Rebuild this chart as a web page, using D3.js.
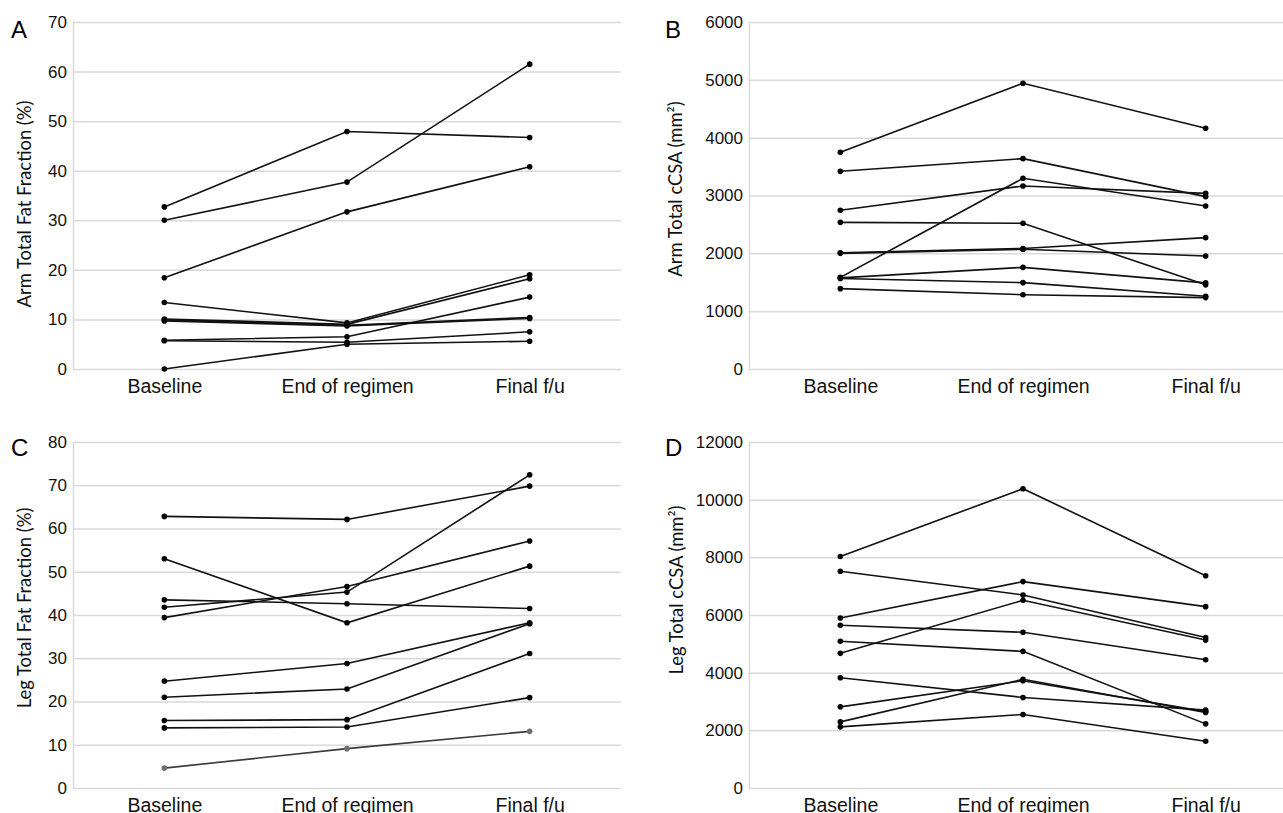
<!DOCTYPE html>
<html>
<head>
<meta charset="utf-8">
<script src="https://cdn.jsdelivr.net/npm/d3@7"></script>
<style>
  body { margin: 0; background: #fff; }
  svg { display: block; font-family: Lato, "Open Sans", sans-serif; }
</style>
</head>
<body>
<svg id="chart" width="1283" height="813"></svg>
<script>
// time points
var categories = ["Baseline", "End of regimen", "Final f/u"];

// A: arm total fat fraction (%), one row per subject
var armFat = [
    [32.7, 47.9, 46.7],
    [30.0, 37.7, 61.5],
    [18.4, 31.7, 40.8],
    [13.4, 9.3, 19.0],
    [10.1, 9.0, 18.2],
    [9.9, 8.8, 10.4],
    [9.7, 8.7, 10.2],
    [5.8, 6.5, 14.5],
    [5.7, 5.4, 7.5],
    [0.0, 5.0, 5.6]
];
// B: arm total cCSA (mm2)
var armCsa = [
    [3747, 4940, 4162],
    [3418, 3637, 2980],
    [2744, 3164, 3037],
    [1585, 3297, 2819],
    [2536, 2519, 1455],
    [2010, 2084, 2271],
    [2000, 2070, 1954],
    [1575, 1758, 1490],
    [1565, 1493, 1257],
    [1389, 1285, 1235]
];
// C: leg total fat fraction (%)
var legFat = [
    [62.8, 62.1, 69.8],
    [53.0, 38.2, 51.3],
    [43.5, 42.6, 41.5],
    [41.8, 45.3, 72.4],
    [39.4, 46.6, 57.1],
    [24.7, 28.8, 38.2],
    [21.0, 22.9, 38.0],
    [15.6, 15.8, 31.1],
    [13.9, 14.1, 20.9],
    [4.6, 9.1, 13.1]
];
// D: leg total cCSA (mm2)
var legCsa = [
    [8027, 10380, 7360],
    [7519, 6696, 5220],
    [5897, 7158, 6290],
    [4670, 6511, 5130],
    [5643, 5400, 4450],
    [5087, 4739, 2224],
    [3822, 3141, 2700],
    [2815, 3720, 2650],
    [2293, 3770, 2620],
    [2120, 2550, 1623]
];

var armFatTicks = [0, 10, 20, 30, 40, 50, 60, 70];
var armCsaTicks = [0, 1000, 2000, 3000, 4000, 5000, 6000];
var legFatTicks = [0, 10, 20, 30, 40, 50, 60, 70, 80];
var legCsaTicks = [0, 2000, 4000, 6000, 8000, 10000, 12000];

var svg = d3.select("#chart");

var drawPanel = function(p){
    var g = svg.append("g");

    var x = d3.scalePoint()
        .domain(categories)
        .range([p.left, p.right])
        .padding(0.5);
    var y = d3.scaleLinear()
        .domain([0, p.ticks[p.ticks.length - 1]])
        .range([p.bottom, p.top]);

    // grid + y tick labels
    var yAxis = g.append("g")
        .attr("transform", "translate(" + p.left + ",0)")
        .call(d3.axisLeft(y)
            .tickValues(p.ticks)
            .tickFormat(d3.format("d"))
            .tickSize(-(p.right - p.left))
            .tickSizeOuter(0)
            .tickPadding(6));
    yAxis.select(".domain").attr("stroke", "#d9d9d9").attr("stroke-width", 1.5);
    yAxis.selectAll(".tick line").attr("stroke", "#d9d9d9").attr("stroke-width", 1.5);
    yAxis.selectAll(".tick text")
        .attr("fill", "#111")
        .style("font-size", "17px");

    // category labels
    var xAxis = g.append("g")
        .attr("transform", "translate(0," + p.bottom + ")")
        .call(d3.axisBottom(x).tickSize(0).tickPadding(10));
    xAxis.select(".domain").remove();
    xAxis.selectAll(".tick text")
        .attr("fill", "#111")
        .style("font-size", "19.5px");

    // subject lines
    var line = d3.line()
        .x(function(d, i){ return x(categories[i]); })
        .y(function(d){ return y(d); });

    g.selectAll(".subj")
        .data(p.data)
        .enter()
        .append("path")
        .attr("class", "subj")
        .attr("d", line)
        .attr("fill", "none")
        .attr("stroke", function(d, i){ return p.grey === i ? "#3a3a3a" : "#111"; })
        .attr("stroke-width", 1.6);

    g.selectAll(".dots")
        .data(p.data)
        .enter()
        .append("g")
        .attr("class", "dots")
        .attr("fill", function(d, i){ return p.grey === i ? "#6e6e6e" : "#000"; })
        .selectAll("circle")
        .data(function(d){ return d; })
        .enter()
        .append("circle")
        .attr("cx", function(d, i){ return x(categories[i]); })
        .attr("cy", function(d){ return y(d); })
        .attr("r", 2.8);

    // y title
    g.append("text")
        .attr("transform", "translate(" + p.titleX + "," + p.titleY + ") rotate(-90)")
        .attr("text-anchor", "middle")
        .attr("dominant-baseline", "central")
        .attr("fill", "#111")
        .style("font-size", "18.4px")
        .text(p.title);

    // panel letter
    g.append("text")
        .attr("x", p.letterX)
        .attr("y", p.letterY)
        .attr("fill", "#000")
        .style("font-family", "'Liberation Sans', Arial, sans-serif")
        .style("font-size", "24px")
        .text(p.letter);
};

var main = function(){
    drawPanel({ letter: "A", data: armFat, ticks: armFatTicks, title: "Arm Total Fat Fraction (%)",
        left: 73, right: 621, top: 22, bottom: 369, titleX: 24, titleY: 204, letterX: 11, letterY: 38 });
    drawPanel({ letter: "B", data: armCsa, ticks: armCsaTicks, title: "Arm Total cCSA (mm\u00b2)",
        left: 749, right: 1297, top: 22, bottom: 369, titleX: 675, titleY: 189, letterX: 665, letterY: 38 });
    drawPanel({ letter: "C", data: legFat, ticks: legFatTicks, title: "Leg Total Fat Fraction (%)", grey: 9,
        left: 73, right: 621, top: 442, bottom: 788, titleX: 24, titleY: 608, letterX: 11, letterY: 456 });
    drawPanel({ letter: "D", data: legCsa, ticks: legCsaTicks, title: "Leg Total cCSA (mm\u00b2)",
        left: 749, right: 1297, top: 442, bottom: 788, titleX: 676, titleY: 590, letterX: 665, letterY: 456 });
}();
</script>
</body>
</html>
